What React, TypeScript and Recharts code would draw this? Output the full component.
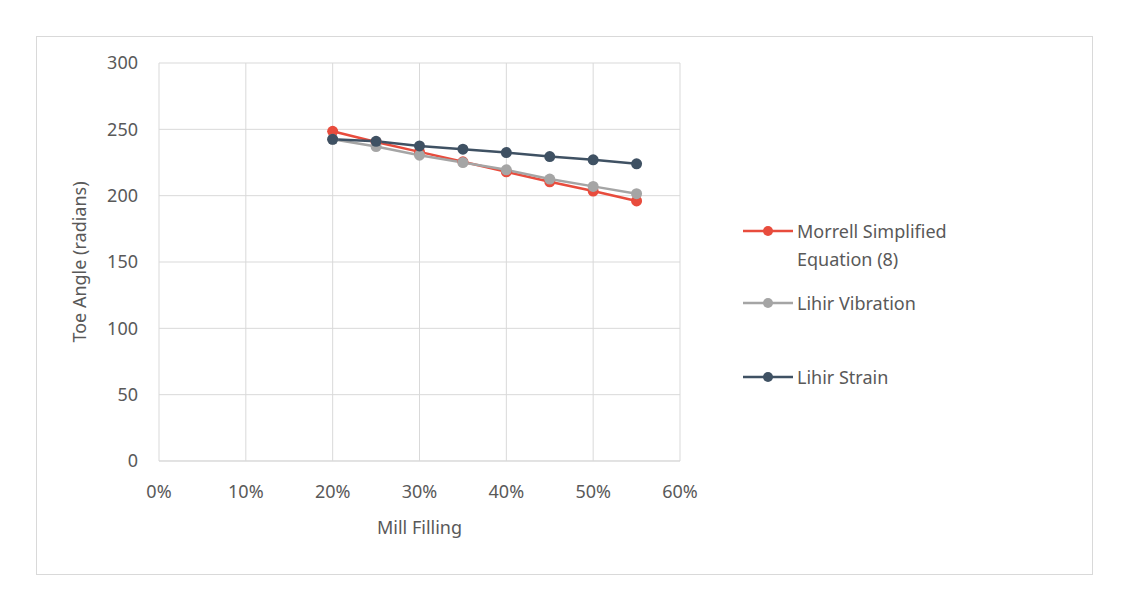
import React from 'react'
import { LineChart, Line, XAxis, YAxis, CartesianGrid, Legend, Label } from 'recharts'

const fillings = [0.2, 0.25, 0.3, 0.35, 0.4, 0.45, 0.5, 0.55]
const morrell = [248.5, 240.5, 233, 225.5, 218, 210.5, 203.5, 196]
const vibration = [242.5, 237, 230.5, 225, 219.5, 212.5, 207, 201.5]
const strain = [242.5, 241, 237.5, 235, 232.5, 229.5, 227, 224]

const seriesNames = ['Morrell Simplified Equation (8)', 'Lihir Vibration', 'Lihir Strain']

const xTicks = [0, 0.1, 0.2, 0.3, 0.4, 0.5, 0.6]
const yTicks = [0, 50, 100, 150, 200, 250, 300]

const data = fillings.map((f, i) => ({
    filling: f,
    morrell: morrell[i],
    vibration: vibration[i],
    strain: strain[i]
}))

const FONT = '"Noto Sans", sans-serif'
const TEXT = '#595959'
const GRID = '#d9d9d9'

// legend item centres (y, px in chart coords)
const legendTops = [194, 266, 340]

function LegendBox(props: any) {
    const payload = [...(props.payload || [])].sort(
        (a: any, b: any) => seriesNames.indexOf(a.value) - seriesNames.indexOf(b.value)
    )
    return (
        <div style={{ position: 'relative', width: 260, height: 200, fontFamily: FONT }}>
            {payload.map((p: any, i: number) => (
                <div
                    key={p.value}
                    style={{
                        position: 'absolute',
                        left: 0,
                        top: legendTops[i] - 14 - 180,
                        display: 'flex',
                        alignItems: 'flex-start'
                    }}
                >
                    <svg width={54} height={28} style={{ flex: 'none' }}>
                        <line x1={0} y1={14} x2={50} y2={14} stroke={p.color} strokeWidth={2.5} />
                        <circle cx={25} cy={14} r={5} fill={p.color} />
                    </svg>
                    <span style={{ fontSize: 18, lineHeight: '28px', color: TEXT, width: 175 }}>{p.value}</span>
                </div>
            ))}
        </div>
    )
}

export default function App() {
    return (
        <div
            style={{
                position: 'absolute',
                left: 36,
                top: 36,
                width: 1057,
                height: 539,
                border: '1px solid #d9d9d9',
                boxSizing: 'border-box',
                background: '#fff'
            }}
        >
            <LineChart
                width={1055}
                height={537}
                data={data}
                margin={{ top: 26, right: 412, bottom: 23, left: 0 }}
            >
                <CartesianGrid stroke={GRID} strokeWidth={1} />
                <XAxis
                    dataKey="filling"
                    type="number"
                    domain={[0, 0.6]}
                    ticks={xTicks}
                    tickFormatter={(v: number) => `${Math.round(v * 100)}%`}
                    axisLine={{ stroke: GRID }}
                    tickLine={false}
                    tickSize={0}
                    tickMargin={24}
                    height={90}
                    tick={{ fill: TEXT, fontSize: 18, fontFamily: FONT }}
                >
                    <Label
                        value="Mill Filling"
                        position="insideBottom"
                        offset={17}
                        style={{ fill: TEXT, fontSize: 18, fontFamily: FONT }}
                    />
                </XAxis>
                <YAxis
                    type="number"
                    domain={[0, 300]}
                    ticks={yTicks}
                    axisLine={false}
                    tickLine={false}
                    tickSize={0}
                    tickMargin={21}
                    width={122}
                    tick={{ fill: TEXT, fontSize: 18, fontFamily: FONT }}
                >
                    <Label
                        value="Toe Angle (radians)"
                        position="insideLeft"
                        angle={-90}
                        offset={43}
                        style={{ fill: TEXT, fontSize: 18, fontFamily: FONT, textAnchor: 'middle' }}
                    />
                </YAxis>
                <Legend
                    layout="vertical"
                    align="center"
                    verticalAlign="middle"
                    content={<LegendBox />}
                    wrapperStyle={{ position: 'absolute', left: 706, top: 180, width: 260 }}
                />
                <Line
                    dataKey="morrell"
                    name={seriesNames[0]}
                    stroke="#e84c3d"
                    strokeWidth={2.5}
                    dot={{ r: 5.5, fill: '#e84c3d', stroke: '#e84c3d', strokeWidth: 0 }}
                    activeDot={false}
                    isAnimationActive={false}
                />
                <Line
                    dataKey="vibration"
                    name={seriesNames[1]}
                    stroke="#a5a5a5"
                    strokeWidth={2.5}
                    dot={{ r: 5.5, fill: '#a5a5a5', stroke: '#a5a5a5', strokeWidth: 0 }}
                    activeDot={false}
                    isAnimationActive={false}
                />
                <Line
                    dataKey="strain"
                    name={seriesNames[2]}
                    stroke="#3f5163"
                    strokeWidth={2.5}
                    dot={{ r: 5.5, fill: '#3f5163', stroke: '#3f5163', strokeWidth: 0 }}
                    activeDot={false}
                    isAnimationActive={false}
                />
            </LineChart>
        </div>
    )
}
